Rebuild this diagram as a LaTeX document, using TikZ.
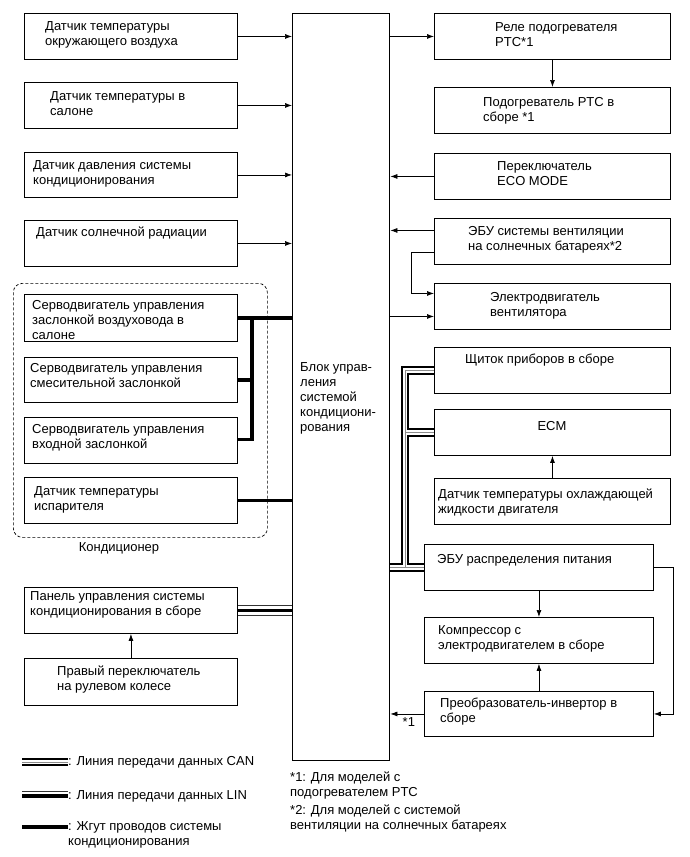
\documentclass[tikz,border=0pt]{standalone}
\usepackage{fontspec}
\setmainfont{Liberation Sans}
\usetikzlibrary{arrows.meta}
\tikzset{
  unit/.style={draw,line width=0.9pt,anchor=north west,inner sep=0pt},
  lbl/.style={anchor=west,align=left,inner sep=0pt,font=\fontsize{13}{15}\selectfont},
  sig/.style={line width=0.7pt,-{Latex[length=7pt,width=5pt]}},
  wire/.style={line width=3.2pt},
  can/.style={draw=black!45,line width=0.5pt,
    preaction={draw=black,line width=1.8pt,double=white,double distance=4.6pt}},
  lin/.style={line width=3.6pt,
    preaction={draw=black!80,line width=0.8pt,double=white,double distance=9pt}},
}

\begin{document}
\begin{tikzpicture}[x=1pt,y=-1pt]
\useasboundingbox (0,0) rectangle (689,857);

% control unit
\node[unit,line width=1.4pt,minimum width=97,minimum height=747] (acu) at (292,13) {};
\node[lbl] (acu-t) at (300,398) {Блок управ-\\ления\\системой\\кондициони-\\рования};

% sensors, left
\node[unit,minimum width=213,minimum height=46] (tamb) at (24,13) {};
\node[lbl] (tamb-t) at (45,35) {Датчик температуры\\окружающего воздуха};
\node[unit,minimum width=213,minimum height=46] (tcab) at (24,82) {};
\node[lbl] (tcab-t) at (50,104) {Датчик температуры в\\салоне};
\node[unit,minimum width=213,minimum height=45] (press) at (24,152) {};
\node[lbl] (press-t) at (33,174) {Датчик давления системы\\кондиционирования};
\node[unit,minimum width=213,minimum height=46] (sun) at (24,220) {};
\node[lbl] (sun-t) at (36,233) {Датчик солнечной радиации};

% air conditioner unit
\node[draw,dash pattern=on 3pt off 2pt,line width=0.7pt,rounded corners=9pt,
  anchor=north west,minimum width=254,minimum height=254] (aircon) at (13,283) {};
\node[font=\fontsize{13}{15}\selectfont,inner sep=0pt] (aircon-t) at (119,548) {Кондиционер};
\node[unit,minimum width=213,minimum height=47] (servo-duct) at (24,294) {};
\node[lbl] (servo-duct-t) at (32,320) {Серводвигатель управления\\заслонкой воздуховода в\\салоне};
\node[unit,minimum width=213,minimum height=45] (servo-mix) at (24,357) {};
\node[lbl] (servo-mix-t) at (30,375.5) {Серводвигатель управления\\смесительной заслонкой};
\node[unit,minimum width=213,minimum height=46] (servo-inlet) at (24,417) {};
\node[lbl] (servo-inlet-t) at (32,437.5) {Серводвигатель управления\\входной заслонкой};
\node[unit,minimum width=213,minimum height=46] (evap) at (24,477) {};
\node[lbl] (evap-t) at (34,499.5) {Датчик температуры\\испарителя};

% control panel
\node[unit,minimum width=213,minimum height=46] (panel) at (24,587) {};
\node[lbl] (panel-t) at (30,605) {Панель управления системы\\кондиционирования в сборе};
\node[unit,minimum width=213,minimum height=47] (steer) at (24,658) {};
\node[lbl] (steer-t) at (57,679.5) {Правый переключатель\\на рулевом колесе};

% right column
\node[unit,minimum width=236,minimum height=46] (relay) at (434,13) {};
\node[lbl] (relay-t) at (495,35) {Реле подогревателя\\PTC*1};
\node[unit,minimum width=236,minimum height=46] (heater) at (434,87) {};
\node[lbl] (heater-t) at (483,111) {Подогреватель PTC в\\сборе *1};
\node[unit,minimum width=236,minimum height=46] (eco) at (434,153) {};
\node[lbl] (eco-t) at (497,174) {Переключатель\\ECO MODE};
\node[unit,minimum width=236,minimum height=46] (solar) at (434,218) {};
\node[lbl] (solar-t) at (468,240) {ЭБУ системы вентиляции\\на солнечных батареях*2};
\node[unit,minimum width=236,minimum height=46] (fan) at (434,283) {};
\node[lbl] (fan-t) at (490,306) {Электродвигатель\\вентилятора};
\node[unit,minimum width=236,minimum height=46] (cluster) at (434,347) {};
\node[lbl] (cluster-t) at (465,360) {Щиток приборов в сборе};
\node[unit,minimum width=236,minimum height=46] (ecm) at (434,409) {};
\node[font=\fontsize{13}{15}\selectfont,inner sep=0pt] (ecm-t) at (552,426) {ECM};
\node[unit,minimum width=236,minimum height=46] (coolant) at (434,478) {};
\node[lbl] (coolant-t) at (438,502) {Датчик температуры охлаждающей\\жидкости двигателя};
\node[unit,minimum width=229,minimum height=46] (pdu) at (424,544) {};
\node[lbl] (pdu-t) at (437,560) {ЭБУ распределения питания};
\node[unit,minimum width=229,minimum height=46] (comp) at (424,617) {};
\node[lbl] (comp-t) at (438,639) {Компрессор с\\электродвигателем в сборе};
\node[unit,minimum width=229,minimum height=45] (inverter) at (424,691) {};
\node[lbl] (inverter-t) at (440,712) {Преобразователь-инвертор в\\сборе};

% signal lines
\draw[sig] (tamb.east) -- (tamb.east -| acu.west);
\draw[sig] (tcab.east) -- (tcab.east -| acu.west);
\draw[sig] (press.east) -- (press.east -| acu.west);
\draw[sig] (sun.east) -- (sun.east -| acu.west);
\draw[sig] (relay.west -| acu.east) -- (relay.west);
\draw[sig] (relay.south) -- (heater.north);
\draw[sig] (eco.west) -- (eco.west -| acu.east);
\coordinate (solar-out) at ([yshift=11pt]solar.west);
\coordinate (solar-fan) at ([yshift=-11pt]solar.west);
\coordinate (fan-in) at ([yshift=13pt]fan.west);
\coordinate (fan-feed) at ([yshift=-10pt]fan.west);
\draw[sig] (solar-out) -- (solar-out -| acu.east);
\draw[sig] (solar-fan) -- ++(-23,0) |- (fan-in);
\draw[sig] (fan-feed -| acu.east) -- (fan-feed);
\draw[sig] (coolant.north) -- (ecm.south);
\draw[sig] (pdu.south) -- (comp.north);
\draw[sig] (inverter.north) -- (comp.south);
\draw[sig] (pdu.east) -- ++(19,0) |- (inverter.east);
\draw[sig] (inverter.west) -- (inverter.west -| acu.east)
  node[pos=0.45,below=3pt,font=\fontsize{13}{15}\selectfont,inner sep=0pt] (inv-note) {*1};
\draw[sig] (steer.north) -- (panel.south);

% harness
\coordinate (hub) at (252,0);
\draw[wire] (servo-duct.east) -- (servo-duct.east -| acu.west)
  (servo-mix.east) -| (servo-duct.east -| hub)
  ([yshift=1pt]servo-inlet.east) -| (servo-duct.east -| hub);
\draw[wire] (evap.east) -- (evap.east -| acu.west);

% LIN
\draw[lin] (panel.east) -- (panel.east -| acu.west);

% CAN
\coordinate (trunk) at (405,0);
\draw[can] (pdu.west -| acu.east) -- (pdu.west)
  (pdu.west -| trunk) |- (cluster.west)
  (ecm.west -| trunk) -- (ecm.west);

% key
\node[lbl] (key-can) at (68,762) {: Линия передачи данных CAN};
\draw[can] (key-can.west) -- ++(-46,0);
\node[lbl] (key-lin) at (68,796) {: Линия передачи данных LIN};
\draw[lin] (key-lin.west) -- ++(-46,0);
\node[lbl] (key-wire) at (68,834.5) {: Жгут проводов системы\\кондиционирования};
\coordinate (key-wire-a) at (68,827);
\draw[wire] (key-wire-a) -- ++(-46,0);

% notes
\node[lbl] (note1) at (290,785.5) {*1: Для моделей с\\подогревателем PTC};
\node[lbl] (note2) at (290,818.5) {*2: Для моделей с системой\\вентиляции на солнечных батареях};
\end{tikzpicture}
\end{document}
